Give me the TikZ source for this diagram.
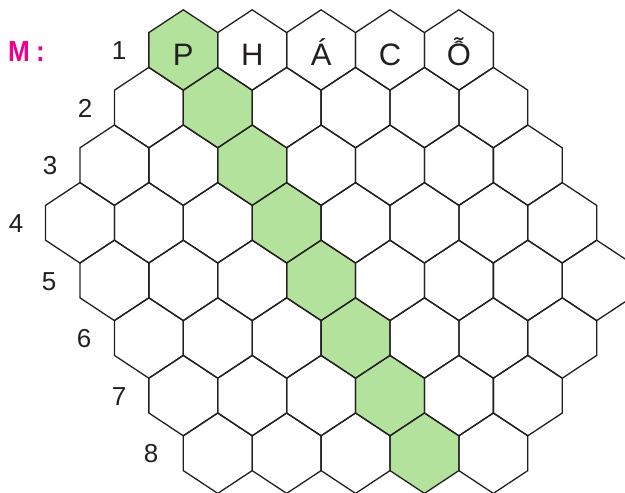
\documentclass[tikz,border=0pt]{standalone}
\usepackage{fontspec}
\setmainfont{Liberation Sans}
\definecolor{hexgreen}{HTML}{B3E29D}
\definecolor{ink}{HTML}{231F20}
\definecolor{mag}{HTML}{EC008C}
\begin{document}
\begin{tikzpicture}[x=1pt,y=-1pt,
  hexline/.style={draw=ink,line width=1.3pt,line join=miter},
  hexfill/.style={fill=hexgreen},
  letter/.style={font=\fontsize{31}{31}\selectfont,text=ink,anchor=base,inner sep=0pt},
  rownum/.style={font=\fontsize{26}{26}\selectfont,text=ink,anchor=base,inner sep=0pt},
  title/.style={font=\fontsize{29}{29}\selectfont\bfseries,text=mag,anchor=base west,inner sep=0pt,xscale=0.9},
]
\useasboundingbox (0,0) rectangle (625,493);
\clip (0,0) rectangle (625,493);
\def\hexW{34.45}
\def\hexT{40.2}
\def\hexS{17.4}
% green diagonal cells
\foreach \r in {1,...,8}{
  \pgfmathsetmacro\cx{183.3+34.45*(\r-1)}
  \pgfmathsetmacro\cy{50+57.6*(\r-1)}
  \fill[hexfill] (\cx,\cy-\hexT) -- (\cx+\hexW,\cy-\hexS) -- (\cx+\hexW,\cy+\hexS) -- (\cx,\cy+\hexT)
     -- (\cx-\hexW,\cy+\hexS) -- (\cx-\hexW,\cy-\hexS) -- cycle;
}
% grid outlines
\foreach \r/\sx/\n in {1/183.3/4, 2/148.85/5, 3/114.4/6, 4/79.95/7, 5/114.4/7, 6/148.85/6, 7/183.3/5, 8/217.75/4}{
  \foreach \k in {0,...,\n}{
    \pgfmathsetmacro\cx{\sx+68.9*\k}
    \pgfmathsetmacro\cy{50+57.6*(\r-1)}
    \coordinate (h-\r-\k) at (\cx,\cy);
    \draw[hexline] (\cx,\cy-\hexT) -- (\cx+\hexW,\cy-\hexS) -- (\cx+\hexW,\cy+\hexS) -- (\cx,\cy+\hexT)
       -- (\cx-\hexW,\cy+\hexS) -- (\cx-\hexW,\cy-\hexS) -- cycle;
  }
}
% letters in row 1
\node[letter] (lP) at (183.3,65) {P};
\node[letter] (lH) at (252.2,65) {H};
\node[letter] (lA) at (321.1,65) {Á};
\node[letter] (lC) at (390.0,65) {C};
\node[letter] (lO) at (458.9,65) {Ỗ};
% row numbers
\node[rownum] (n1) at (119,59.5) {1};
\node[rownum] (n2) at (85,117) {2};
\node[rownum] (n3) at (50,174.7) {3};
\node[rownum] (n4) at (16,232.3) {4};
\node[rownum] (n5) at (49,290) {5};
\node[rownum] (n6) at (84,347.5) {6};
\node[rownum] (n7) at (119,405) {7};
\node[rownum] (n8) at (151,462.7) {8};
% title
\node[title] (m) at (8,61.5) {M\kern 7pt:};
\end{tikzpicture}
\end{document}
